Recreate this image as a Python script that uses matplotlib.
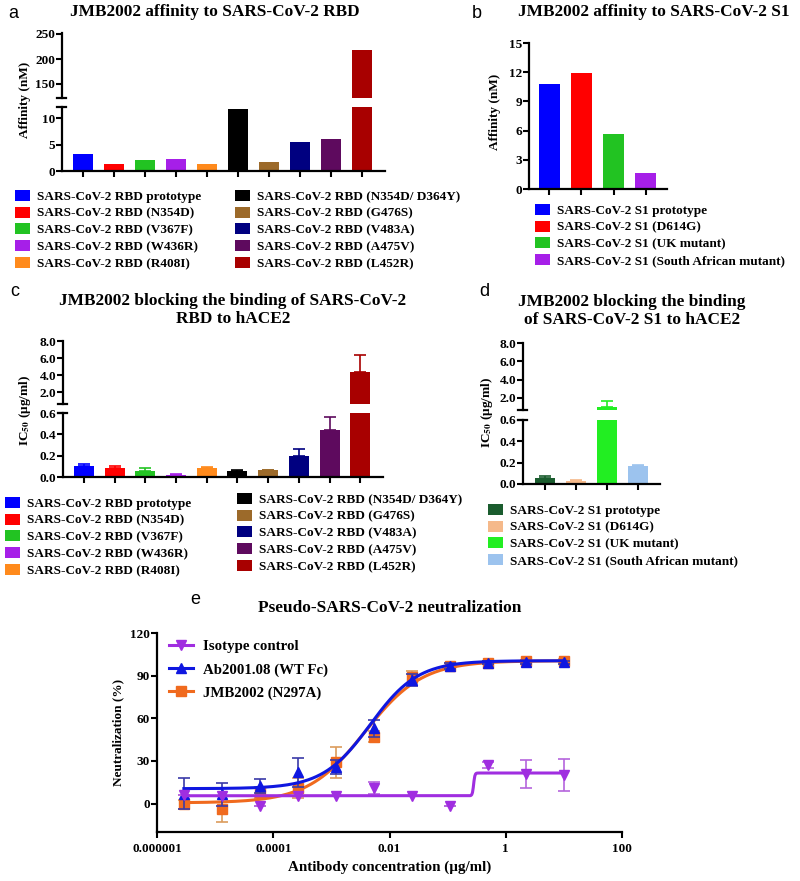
import numpy as np
import matplotlib
matplotlib.use('Agg')
import matplotlib.pyplot as plt
from matplotlib.patches import Patch
from matplotlib.lines import Line2D
from matplotlib.ticker import NullLocator

plt.rcParams['font.family'] = ['Liberation Serif', 'DejaVu Serif']
plt.rcParams['font.weight'] = 'bold'
plt.rcParams['mathtext.fontset'] = 'stix'
plt.rcParams['axes.linewidth'] = 1.6

# ---- data ----
rbd_labels = ['SARS-CoV-2 RBD prototype', 'SARS-CoV-2 RBD (N354D)', 'SARS-CoV-2 RBD (V367F)',
              'SARS-CoV-2 RBD (W436R)', 'SARS-CoV-2 RBD (R408I)', 'SARS-CoV-2 RBD (N354D/ D364Y)',
              'SARS-CoV-2 RBD (G476S)', 'SARS-CoV-2 RBD (V483A)', 'SARS-CoV-2 RBD (A475V)',
              'SARS-CoV-2 RBD (L452R)']
rbd_colors = ['#0000ff', '#ff0000', '#22c322', '#a61fe8', '#ff8a1c',
              '#000000', '#9c6a2a', '#000080', '#5e0a5e', '#a80000']
rbd_affinity = [3.3, 1.4, 2.0, 2.2, 1.4, 11.7, 1.7, 5.4, 6.1, 218]

s1_labels = ['SARS-CoV-2 S1 prototype', 'SARS-CoV-2 S1 (D614G)',
             'SARS-CoV-2 S1 (UK mutant)', 'SARS-CoV-2 S1 (South African mutant)']
s1_colors_b = ['#0000ff', '#ff0000', '#22c322', '#a61fe8']
s1_affinity = [10.8, 11.9, 5.7, 1.6]

rbd_ic50 = [0.10, 0.085, 0.06, 0.02, 0.085, 0.055, 0.065, 0.20, 0.445, 4.3]
rbd_ic50_err = [0.02, 0.015, 0.025, 0.01, 0.005, 0.015, 0.003, 0.06, 0.115, 2.0]

s1_colors_d = ['#1a5c2e', '#f5b98a', '#22ee22', '#9cc3ee']
s1_ic50 = [0.055, 0.03, 1.0, 0.165]
s1_ic50_err = [0.02, 0.005, 0.65, 0.01]

conc = [2.9e-6, 1.3e-5, 5.9e-5, 2.7e-4, 1.2e-3, 5.4e-3, 0.024, 0.11, 0.49, 2.2, 10]
isotype = [6, 5, -2, 5, 5.5, 11, 5.5, -2, 27, 21, 20]
isotype_err = [0, 0, 0, 0, 0, 4, 0, 0, 2, 10, 11.5]
ab2001 = [7, 6.5, 12.5, 22, 26, 53, 87, 97, 99, 99.5, 99.5]
ab2001_err = [11, 8, 5, 10, 5, 6, 4, 2, 1, 1, 1]
jmb2002 = [-0.5, -4, 8, 11, 29, 47, 89, 97, 99, 100, 100.5]
jmb2002_err = [3, 9, 4, 7, 11, 4, 4, 2, 1, 1, 1]
# 4PL fit parameters: bottom, top, EC50, hill
isotype_fit = [5.5, 21.5, 0.28, 40]
ab2001_fit = [10.5, 100.5, 4.65e-3, 1.06]
jmb2002_fit = [0.5, 100.5, 3.8e-3, 0.88]

W, H = 800, 881
fig = plt.figure(figsize=(8, 8.81), dpi=100)
TICK = 9.5
LEG = 9.5
TITLE = 12.4


def box(x0, y0, x1, y1):
    return [x0 / W, 1 - y1 / H, (x1 - x0) / W, (y1 - y0) / H]


def style(ax, bottom=True):
    for s in ['top', 'right']:
        ax.spines[s].set_visible(False)
    ax.tick_params(direction='out', length=4, width=1.5, labelsize=TICK, pad=1)
    if not bottom:
        ax.spines['bottom'].set_visible(False)
        ax.tick_params(axis='x', bottom=False, labelbottom=False)
    for t in ax.get_yticklabels():
        t.set_fontweight('bold')


def break_mark(ax, where):
    w = ax.get_position().width * W
    ax.plot([-5 / w, 4 / w], [where, where], color='k', lw=1.6,
            transform=ax.transAxes, clip_on=False)


def bars(ax, vals, colors, err=None, floor=None):
    x = np.arange(len(vals))
    ax.bar(x, vals, width=0.65, color=colors)
    if err is not None:
        for xi, v, e, c in zip(x, vals, err, colors):
            if floor is not None and v + e < floor:
                continue
            ax.errorbar(xi, v, yerr=[[0], [e]], color=c, lw=1.2, capsize=4, capthick=1.2)
    return x


def broken(lower, upper, vals, colors, xlim, lo_lim, up_lim, lo_ticks, up_ticks, fmt, err=None):
    axl = fig.add_axes(box(*lower))
    axu = fig.add_axes(box(*upper))
    x = bars(axl, vals, colors, err)
    bars(axu, vals, colors, err, floor=up_lim[0])
    for ax in (axl, axu):
        ax.set_xlim(*xlim)
    axl.set_ylim(*lo_lim)
    axu.set_ylim(*up_lim)
    axl.set_yticks(lo_ticks)
    axl.set_yticklabels([fmt % t for t in lo_ticks])
    axu.set_yticks(up_ticks)
    axu.set_yticklabels([fmt % t for t in up_ticks])
    axl.set_xticks(x)
    axl.set_xticklabels([])
    style(axl)
    style(axu, bottom=False)
    break_mark(axl, 1)
    break_mark(axu, 0)
    return axl, axu


def legend(handles, labels, x, y):
    lg = fig.legend(handles, labels, loc='upper left', bbox_to_anchor=(x / W, 1 - y / H),
                    frameon=False, borderpad=0, borderaxespad=0, handlelength=1.1,
                    handleheight=0.9, handletextpad=0.6, labelspacing=0.28,
                    prop={'family': 'Liberation Serif', 'weight': 'bold', 'size': LEG})
    return lg


def patches(colors):
    return [Patch(facecolor=c, edgecolor='none') for c in colors]


def panel_label(x, y, s):
    fig.text(x / W, 1 - y / H, s, fontsize=13, family='Liberation Sans',
             fontweight='normal', ha='left', va='center')


def title(x, y, s):
    fig.text(x / W, 1 - y / H, s, fontsize=TITLE, fontweight='bold', ha='center', va='center',
             linespacing=1.2)


def ylabel(x, y, s):
    fig.text(x / W, 1 - y / H, s, fontsize=9.5, fontweight='bold', ha='center', va='center',
             rotation=90)


# ---- panel a ----
broken((62, 107, 385, 171), (62, 33, 385, 98), rbd_affinity, rbd_colors, (-0.68, 9.74),
       (0, 12.1), (122, 252), [0, 5, 10], [150, 200, 250], '%d')
panel_label(8, 13, 'a')
title(215, 12, 'JMB2002 affinity to SARS-CoV-2 RBD')
ylabel(25, 100, 'Affinity (nM)')
legend(patches(rbd_colors[:5]), rbd_labels[:5], 15, 190)
legend(patches(rbd_colors[5:]), rbd_labels[5:], 235, 190)

# ---- panel b ----
axb = fig.add_axes(box(529, 43, 667, 189))
xb = bars(axb, s1_affinity, s1_colors_b)
axb.set_xlim(-0.62, 3.65)
axb.set_ylim(0, 15)
axb.set_yticks([0, 3, 6, 9, 12, 15])
axb.set_xticks(xb)
axb.set_xticklabels([])
style(axb)
panel_label(472, 13, 'b')
title(654, 12, 'JMB2002 affinity to SARS-CoV-2 S1')
ylabel(495, 112, 'Affinity (nM)')
legend(patches(s1_colors_b), s1_labels, 535, 204)

# ---- panel c ----
ic_label = r'IC$_{\mathbf{50}}$ (µg/ml)'
broken((63, 413, 383, 477), (63, 341, 383, 404), rbd_ic50, rbd_colors, (-0.68, 9.74),
       (0, 0.6), (0.59, 8.0), [0, 0.2, 0.4, 0.6], [2, 4, 6, 8], '%.1f', err=rbd_ic50_err)
panel_label(10, 292, 'c')
title(233, 310, 'JMB2002 blocking the binding of SARS-CoV-2\nRBD to hACE2')
ylabel(25, 410, ic_label)
legend(patches(rbd_colors[:5]), rbd_labels[:5], 5, 497)
legend(patches(rbd_colors[5:]), rbd_labels[5:], 237, 493)

# ---- panel d ----
broken((523, 420, 660, 484), (523, 343, 660, 410), s1_ic50, s1_colors_d, (-0.71, 3.71),
       (0, 0.6), (0.69, 8.0), [0, 0.2, 0.4, 0.6], [2, 4, 6, 8], '%.1f', err=s1_ic50_err)
panel_label(479, 292, 'd')
title(632, 311, 'JMB2002 blocking the binding\nof SARS-CoV-2 S1 to hACE2')
ylabel(487, 412, ic_label)
legend(patches(s1_colors_d), s1_labels, 488, 504)

# ---- panel e ----
def four_pl(x, p):
    bottom, top, ec50, hill = p
    return bottom + (top - bottom) / (1 + (ec50 / x) ** hill)


axe = fig.add_axes(box(157, 633, 622, 832))
axe.set_xscale('log')
xx = np.logspace(np.log10(conc[0]), np.log10(conc[-1]), 500)
series = [(jmb2002, jmb2002_err, jmb2002_fit, '#f06a1e', '#dc9c5c', 's', 6.5),
          (ab2001, ab2001_err, ab2001_fit, '#0f17e0', '#3a3aa8', '^', 7.5),
          (isotype, isotype_err, isotype_fit, '#a02ee0', '#b565dd', 'v', 7.5)]
for vals, err, fit, col, ecol, mk, ms in series:
    axe.errorbar(conc, vals, yerr=err, fmt='none', ecolor=ecol, elinewidth=1.2,
                 capsize=4, capthick=1.2)
    axe.plot(xx, four_pl(xx, fit), color=col, lw=2.2)
    axe.plot(conc, vals, ls='none', marker=mk, ms=ms, color=col)
axe.set_xlim(1e-6, 100)
axe.set_ylim(-20, 120)
axe.set_xticks([1e-6, 1e-4, 1e-2, 1, 100])
axe.set_xticklabels(['0.000001', '0.0001', '0.01', '1', '100'])
axe.xaxis.set_minor_locator(NullLocator())
axe.set_yticks([0, 30, 60, 90, 120])
style(axe)
for t in axe.get_xticklabels():
    t.set_fontweight('bold')
axe.tick_params(axis='x', pad=4)
axe.set_xlabel('Antibody concentration (µg/ml)', fontsize=10.8, fontweight='bold', labelpad=4)
ylabel(118, 732, 'Neutralization (%)')
panel_label(190, 600, 'e')
title(390, 608, 'Pseudo-SARS-CoV-2 neutralization')
e_handles = [Line2D([], [], color='#a02ee0', marker='v', ms=7.5, lw=2.2),
             Line2D([], [], color='#0f17e0', marker='^', ms=7.5, lw=2.2),
             Line2D([], [], color='#f06a1e', marker='s', ms=6.5, lw=2.2)]
axe.legend(e_handles, ['Isotype control', 'Ab2001.08 (WT Fc)', 'JMB2002 (N297A)'],
           loc='upper left', bbox_to_anchor=(12 / 465, 1 - 7 / 199), frameon=False,
           borderpad=0, borderaxespad=0, handlelength=1.6, handletextpad=0.7,
           labelspacing=0.65, prop={'family': 'Liberation Serif', 'weight': 'bold', 'size': 10.7})

fig.savefig('out.png', dpi=100)
